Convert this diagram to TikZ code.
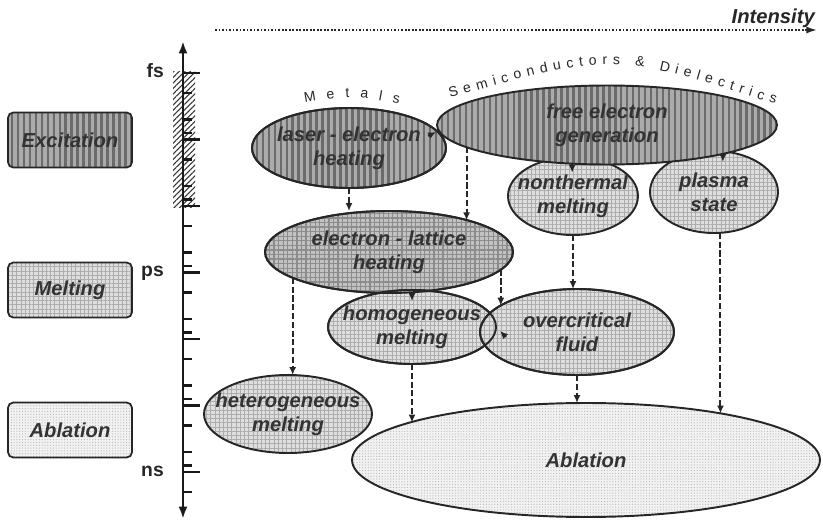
\documentclass[tikz,border=0pt]{standalone}
\usepackage{fontspec}
\setmainfont{Liberation Sans}
\usetikzlibrary{shapes.geometric, arrows.meta, patterns.meta, decorations.text, calc}
\newcommand\boxfont{\fontsize{11.5}{13.5}\selectfont\bfseries\itshape}
\newcommand\tickfont{\fontsize{11}{13}\selectfont\bfseries}
\newcommand\arcfont{\fontsize{8}{9}\selectfont\color{black!85}}

\begin{document}
\begin{tikzpicture}[x=0.02cm, y=-0.02cm, >={Latex[length=4.5pt,width=4pt]}]
	\tikzstyle{excite} = [preaction={fill=black!33}, pattern={Lines[angle=90,distance=3.4pt,line width=1.4pt]}, pattern color=black!58]
	\tikzstyle{meltlight} = [preaction={fill=black!13}, pattern={Hatch[angle=0,distance=2.4pt,line width=0.5pt]}, pattern color=black!32]
	\tikzstyle{meltdark} = [preaction={fill=black!24}, pattern={Hatch[angle=0,distance=2.6pt,line width=0.7pt]}, pattern color=black!45]
	\tikzstyle{ablate} = [preaction={fill=black!5}, pattern={Dots[distance=1.6pt,radius=0.35pt]}, pattern color=black!28]
	\tikzstyle{stage} = [rectangle, rounded corners=3pt, draw=black!85, line width=1pt, minimum width=2.48cm, minimum height=1.1cm, font=\boxfont, text=black!80]
	\tikzstyle{oval} = [ellipse, draw=black!85, line width=1.1pt, inner xsep=-8pt, inner ysep=0pt, outer sep=0pt, align=center, font=\boxfont, text=black!80]
	\tikzstyle{flow} = [->, line width=1.15pt, dash pattern=on 3.5pt off 1.5pt, black!85]
	\tikzstyle{axis} = [line width=1.3pt, black!90]
	\useasboundingbox (0,0) rectangle (823,524);

	\coordinate (ibeg) at (215,30);
	\coordinate (iend) at (817,30);
	\draw[dash pattern=on 1pt off 1pt, line width=1pt, black!85, -{Latex[length=6pt,width=4pt]}] (ibeg) -- (iend);
	\node (int) [anchor=base east, font=\boxfont, text=black!85] at (821,24) {Intensity};

	\path[pattern={Lines[angle=45,distance=2.2pt,line width=0.6pt]}, pattern color=black!80] (173,71) rectangle (195,207);
	\coordinate (tbot) at (183,519);
	\coordinate (ttop) at (183,41);
	\draw[axis, {Latex[length=7pt,width=5pt]}-{Latex[length=7pt,width=5pt]}] (tbot) -- (ttop);
	\foreach \t in {0,...,6}
	\draw[axis] (183,{73+66.5*\t}) -- ++(17,0);
	\foreach \t in {0,...,5}
	\foreach \d in {20,46.5,60}
	\draw[axis] (183,{73+66.5*\t+\d}) -- ++(9,0);
	\draw[axis] (183,492) -- ++(9,0);
	\node (fs) [anchor=base east, font=\tickfont, text=black!85] at (170,77) {fs};
	\node (ps) [anchor=base east, font=\tickfont, text=black!85] at (170,276.5) {ps};
	\node (ns) [anchor=base east, font=\tickfont, text=black!85] at (170,476) {ns};

	\node (exc) [stage, excite] at (70,140) {Excitation};
	\node (mel) [stage, meltlight] at (70,290) {Melting};
	\node (abt) [stage, ablate] at (70,430) {Ablation};

	\node (ntm) [oval, meltlight, minimum width=2.6cm, minimum height=1.56cm] at (573,196) {nonthermal\\melting};
	\node (pls) [oval, meltlight, minimum width=2.56cm, minimum height=1.64cm] at (714,192) {plasma\\state};
	\node (leh) [oval, excite, minimum width=3.88cm, minimum height=1.6cm] at (349,148) {laser - electron\\heating};
	\node (feg) [oval, excite, minimum width=6.8cm, minimum height=1.58cm] at (607,125) {free electron\\generation};
	\node (elh) [oval, meltdark, minimum width=4.96cm, minimum height=1.64cm] at (389,252) {electron - lattice\\heating};
	\node (hom) [oval, meltlight, minimum width=3.36cm, minimum height=1.48cm] at (412,327) {homogeneous\\melting};
	\node (ovc) [oval, meltlight, minimum width=3.88cm, minimum height=1.72cm] at (577,332) {overcritical\\fluid};
	\node (het) [oval, meltlight, minimum width=3.36cm, minimum height=1.56cm] at (288,414) {heterogeneous\\melting};
	\node (abl) [oval, ablate, minimum width=9.36cm, minimum height=2.28cm] at (586,460) {Ablation};
	\foreach \o in {leh,elh,hom,ovc}
	\draw[draw=black!85, line width=1.1pt] let \p1=(\o.center), \p2=(\o.east), \p3=(\o.north) in (\p1) ellipse ({\x2-\x1} and {\y3-\y1});

	\path[decorate, decoration={text along path, text align=fit to path, text={|\arcfont|Metals}}] (305,103) .. controls (352,95) .. (399,104);
	\path[decorate, decoration={text along path, text align=fit to path, text={|\arcfont|Semiconductors {\&} Dielectrics}}] (450,98) .. controls (612,52) .. (775,104);

	\draw[flow] (leh.south) -- (leh.south |- elh.north);
	\draw[flow] (feg.189) -- (feg.189 |- elh.22);
	\draw[flow] (feg.228) -- ++(0,9);
	\draw[flow] (feg.346) -- ++(0,8);
	\draw[flow] (ntm.south) -- (ntm.south |- ovc.north);
	\draw[flow] (elh.195) -- (elh.195 |- het.north);
	\draw[flow] (elh.south -| hom.north) -- ++(0,8);
	\draw[flow] (elh.351) -- (elh.351 |- ovc.161);
	\draw[flow] (hom.south) -- (hom.south |- abl.168);
	\draw[flow] (ovc.south) -- (ovc.south |- abl.north);
	\draw[flow] (pls.279) -- (pls.279 |- abl.19);
	\draw[->, line width=0.9pt, black!85] ([shift={(-9,11)}]feg.west) -- ([shift={(-1,7)}]feg.west);
	\draw[->, line width=0.9pt, black!85] ([shift={(10,10)}]hom.east) -- ([shift={(4,4)}]hom.east);
\end{tikzpicture}
\end{document}
